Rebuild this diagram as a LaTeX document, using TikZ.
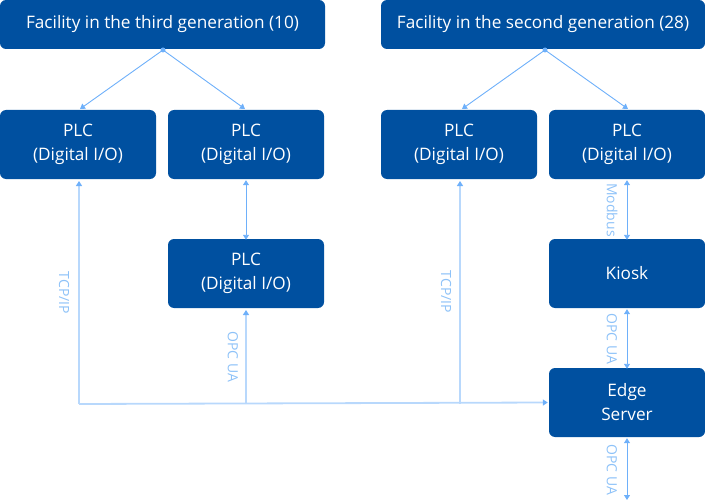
\documentclass[tikz,border=0pt]{standalone}
\usepackage{fontspec}
\setmainfont{Open Sans}
\usetikzlibrary{arrows.meta}
\definecolor{boxblue}{RGB}{0,80,160}
\definecolor{midblue}{RGB}{110,176,250}
\definecolor{busblue}{RGB}{184,216,252}
\definecolor{lblblue}{RGB}{142,194,248}
\tikzset{
  box/.style={draw=none,fill=boxblue,rounded corners=6pt,text=white,align=center,
    inner sep=0pt,font=\fontsize{17.2}{24}\selectfont},
  thin/.style={midblue,line width=0.9pt},
  bus/.style={busblue,line width=1.8pt},
  tip/.style={-{Triangle[length=5pt,width=6pt,fill=midblue,color=midblue]}},
  dtip/.style={{Triangle[length=5pt,width=6pt,fill=midblue,color=midblue]}-{Triangle[length=5pt,width=6pt,fill=midblue,color=midblue]}},
  lbl/.style={text=lblblue,rotate=-90,inner sep=0pt,font=\fontsize{14}{16}\selectfont},
  dot/.style={circle,fill=midblue,inner sep=0pt,minimum size=5pt}
}
\begin{document}
\begin{tikzpicture}[x=1pt,y=-1pt]
\useasboundingbox (0,0) rectangle (705,503);
% boxes
\node[box,minimum width=325pt,minimum height=49pt] (f3) at (162.5,24.5) {Facility in the third generation (10)};
\node[box,minimum width=324pt,minimum height=49pt] (f2) at (543,24.5) {Facility in the second generation (28)};
\node[box,minimum width=156pt,minimum height=69pt] (p1) at (78,144.5) {PLC\\(Digital I/O)};
\node[box,minimum width=156pt,minimum height=69pt] (p2) at (246,144.5) {PLC\\(Digital I/O)};
\node[box,minimum width=156pt,minimum height=69pt] (p3) at (246,273.5) {PLC\\(Digital I/O)};
\node[box,minimum width=156pt,minimum height=69pt] (p4) at (459,144.5) {PLC\\(Digital I/O)};
\node[box,minimum width=156pt,minimum height=69pt] (p5) at (627,144.5) {PLC\\(Digital I/O)};
\node[box,minimum width=156pt,minimum height=69pt] (k) at (627,273.5) {Kiosk};
\node[box,minimum width=156pt,minimum height=69pt] (e) at (627,402.5) {Edge\\Server};
% top splits
\node[dot] (d3) at (163,50) {};
\node[dot] (d2) at (545,50) {};
\draw[thin,tip] (d3.center) -- (80,109);
\draw[thin,tip] (d3.center) -- (245,109);
\draw[thin,tip] (d2.center) -- (462,109);
\draw[thin,tip] (d2.center) -- (628,109);
% vertical links
\draw[thin,dtip] (p2.south) ++(0,1) -- ([yshift=-1pt]p3.north);
\draw[thin,dtip] (p5.south) ++(0,1) -- ([yshift=-1pt]k.north);
\draw[thin,dtip] (k.south) ++(0,1) -- ([yshift=-1pt]e.north);
\coordinate (bot) at (627,500);
\draw[thin,dtip] (e.south) ++(0,1) -- (bot);
% bus
\coordinate (b1) at (79,404);
\coordinate (b2) at (246,404);
\coordinate (b3) at (460,404);
\draw[bus,tip] (b1) -- ([xshift=-1pt]e.west);
\draw[bus,tip] (b1) -- (79,181);
\draw[bus,tip] (b2) -- (246,310);
\draw[bus,tip] (b3) -- (460,181);
% labels
\node[lbl] (l1) at (64,293) {TCP/IP};
\node[lbl] (l2) at (446,292) {TCP/IP};
\node[lbl] (l3) at (233,357) {OPC UA};
\node[lbl] (l4) at (612,210) {Modbus};
\node[lbl] (l5) at (612,339) {OPC UA};
\node[lbl] (l6) at (612,470) {OPC UA};
\end{tikzpicture}
\end{document}
